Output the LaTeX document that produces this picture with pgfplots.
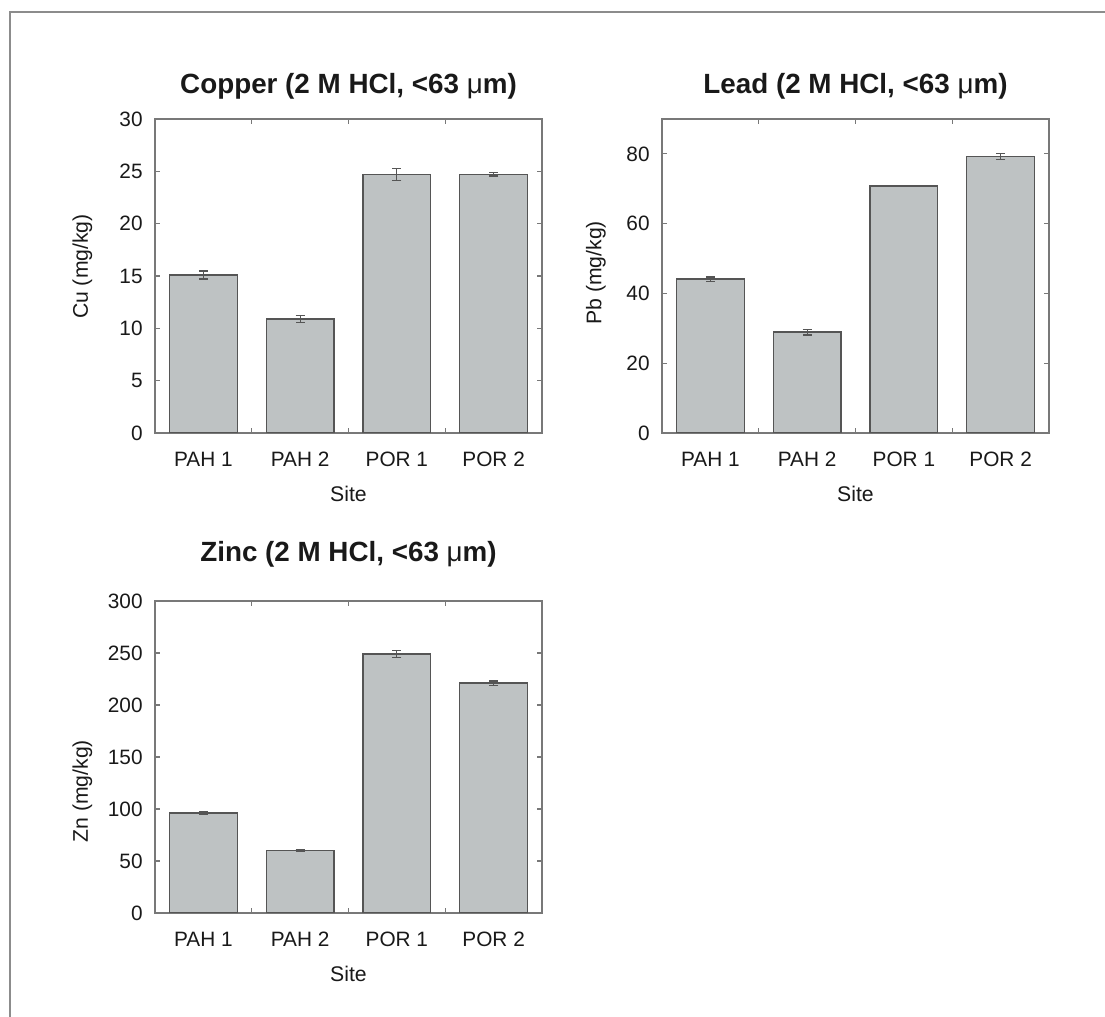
\documentclass[border=0pt]{standalone}
\usepackage{pgfplots}
\pgfplotsset{compat=1.18}
\usepackage{fontspec}
\setmainfont{Liberation Sans}
\definecolor{barfill}{RGB}{190,194,195}
\definecolor{baredge}{RGB}{85,85,85}
\definecolor{axisgray}{RGB}{120,120,120}
\definecolor{framegray}{RGB}{140,140,140}
\definecolor{txt}{RGB}{25,25,25}

\pgfplotstableread{
x y e
1 15.1 0.38
2 10.9 0.35
3 24.7 0.6
4 24.7 0.15
}\cudata
\pgfplotstableread{
x y e
1 44.1 0.6
2 28.9 0.8
3 70.8 0.2
4 79.2 0.8
}\pbdata
\pgfplotstableread{
x y e
1 96 1.5
2 60 1.0
3 249 3.5
4 221 2.0
}\zndata

\pgfplotsset{
 chemstyle/.style={
  scale only axis, width=193.5pt, height=157pt,
  xmin=0.5, xmax=4.5, xtick={1,2,3,4},
  xticklabels={PAH 1, PAH 2, POR 1, POR 2},
  minor xtick={1.5,2.5,3.5},
  major tick length=2.5pt, minor tick length=2.5pt,
  tick align=inside,
  axis line style={axisgray, line width=0.7pt},
  every tick/.style={axisgray, line width=0.6pt},
  major x tick style={draw=none},
  ymin=0,
  /pgf/number format/assume math mode=true,
  tick label style={font=\fontsize{10.4}{12}\selectfont, text=txt},
  xticklabel style={anchor=base, yshift=-17pt, inner sep=0pt},
  yticklabel style={anchor=east, inner sep=0pt, xshift=-6pt},
  label style={font=\fontsize{10.6}{12}\selectfont, text=txt},
  xlabel={Site},
  xlabel style={at={(axis description cs:0.5,0)}, anchor=base, yshift=-34.5pt},
  title style={at={(axis description cs:0.5,1)}, anchor=base, yshift=6.5pt, font=\bfseries\fontsize{13.9}{16}\selectfont, text=txt},
 },
 chembar/.style={ybar, bar width=0.7, fill=barfill, draw=baredge, line width=0.7pt,
  error bars/.cd, y dir=both, y explicit,
  error bar style={baredge, line width=0.6pt},
  error mark options={rotate=90, mark size=2.2pt, baredge, line width=0.6pt}},
}

\begin{document}
\begin{tikzpicture}
\path[use as bounding box] (0,0) rectangle (552.5pt,508.5pt);
\draw[framegray, line width=0.8pt] (5pt,0) -- (5pt,502.5pt) -- (552.5pt,502.5pt);

\begin{axis}[chemstyle, at={(77.5pt,449pt)}, anchor=north west,
  ymax=30, ytick={0,5,...,30},
  title={Copper (2 M HCl, <63 {\mdseries μ}m)},
  ylabel={Cu (mg/kg)},
  ylabel style={at={(axis description cs:0,0.53)}, anchor=center, yshift=36.25pt}]
\addplot[chembar] table[x=x, y=y, y error=e] {\cudata};
\end{axis}

\begin{axis}[chemstyle, at={(331pt,449pt)}, anchor=north west,
  ymax=90, ytick={0,20,...,80},
  title={Lead (2 M HCl, <63 {\mdseries μ}m)},
  ylabel={Pb (mg/kg)},
  ylabel style={at={(axis description cs:0,0.51)}, anchor=center, yshift=33pt}]
\addplot[chembar] table[x=x, y=y, y error=e] {\pbdata};
\end{axis}

\begin{axis}[chemstyle, at={(77.5pt,208pt)}, anchor=north west, height=156pt,
  ymax=300, ytick={0,50,...,300},
  title={Zinc (2 M HCl, <63 {\mdseries μ}m)},
  title style={yshift=7pt},
  ylabel={Zn (mg/kg)},
  ylabel style={at={(axis description cs:0,0.39)}, anchor=center, yshift=36.25pt}]
\addplot[chembar] table[x=x, y=y, y error=e] {\zndata};
\end{axis}
\end{tikzpicture}
\end{document}
